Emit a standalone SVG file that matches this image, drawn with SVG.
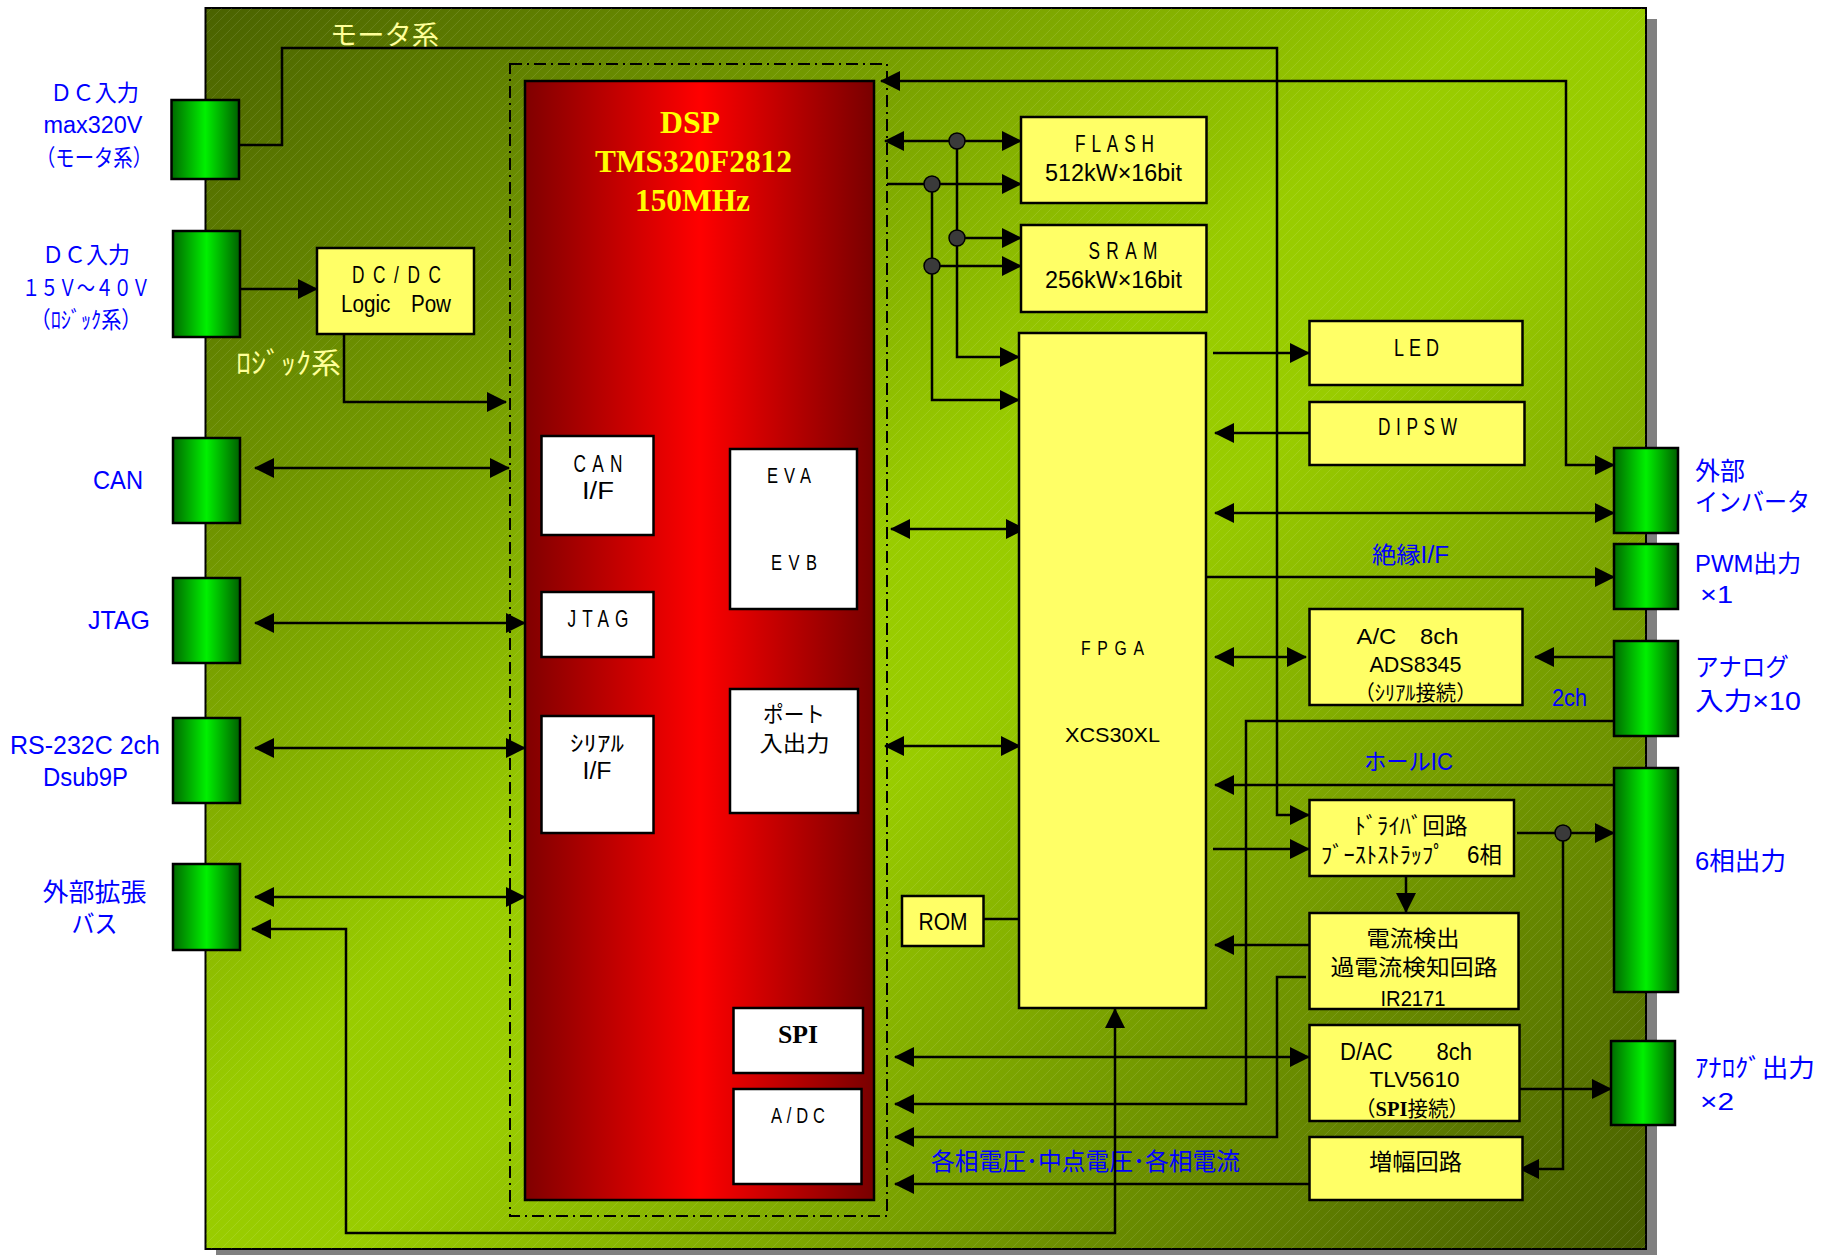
<svg xmlns="http://www.w3.org/2000/svg" width="1831" height="1255" viewBox="0 0 1831 1255">
<defs>
<linearGradient id="gBoard" x1="0" y1="0" x2="1" y2="1">
<stop offset="0" stop-color="#4a6200"/>
<stop offset="0.45" stop-color="#99cc00"/>
<stop offset="0.55" stop-color="#99cc00"/>
<stop offset="1" stop-color="#465c00"/>
</linearGradient>
<pattern id="hatch" patternUnits="userSpaceOnUse" width="10" height="10">
<path d="M-1,1 L1,-1 M0,10 L10,0 M9,11 L11,9" stroke="#ffffff" stroke-opacity="0.13" stroke-width="0.8"/>
</pattern>
<linearGradient id="gG" x1="0" y1="0" x2="1" y2="0">
<stop offset="0" stop-color="#006a00"/>
<stop offset="0.5" stop-color="#00f000"/>
<stop offset="1" stop-color="#006000"/>
</linearGradient>
<linearGradient id="gR" x1="0" y1="0" x2="1" y2="0">
<stop offset="0" stop-color="#800000"/>
<stop offset="0.5" stop-color="#ff0000"/>
<stop offset="1" stop-color="#780000"/>
</linearGradient>
<marker id="ah" viewBox="0 0 20 20" refX="19" refY="10" markerWidth="20" markerHeight="20" markerUnits="userSpaceOnUse" orient="auto-start-reverse">
<path d="M0,0 L20,10 L0,20 z" fill="#000"/>
</marker>
<style>
.b{fill:#ffff66;stroke:#000;stroke-width:2.5}
.w{fill:#ffffff;stroke:#000;stroke-width:2.5}
.cn{fill:url(#gG);stroke:#000;stroke-width:2.5}
.ln{fill:none;stroke:#000;stroke-width:2.5}
.e{marker-end:url(#ah)}
.s{marker-start:url(#ah)}
.dot{fill:#3a3a3a;stroke:#000;stroke-width:1.5}
text{font-family:"Liberation Sans","Noto Sans CJK JP",sans-serif;text-anchor:middle;fill:#000}
.bl{fill:#0000ff}
.yl{fill:#ffff99}
.yt{fill:#ffff00}
.st{text-anchor:start}
.sf{font-family:"Liberation Serif","Noto Sans CJK JP",serif;font-weight:bold}
</style>
</defs>

<g id="board">
<rect x="216" y="19" width="1441" height="1236" fill="#808080"/>
<rect x="205.5" y="8" width="1440.5" height="1241" fill="url(#gBoard)" stroke="#000" stroke-width="2"/>
<rect x="205.5" y="8" width="1440.5" height="1241" fill="url(#hatch)"/>
<text class="yl" x="384.5" y="45" font-size="27" textLength="109" lengthAdjust="spacingAndGlyphs">モータ系</text>
<text class="yl" x="288.5" y="374" font-size="29" textLength="105" lengthAdjust="spacingAndGlyphs">ﾛｼﾞｯｸ系</text>
<text class="bl" x="1410.5" y="563" font-size="23" textLength="77" lengthAdjust="spacingAndGlyphs">絶縁I/F</text>
<text class="bl" x="1408.5" y="770" font-size="23" textLength="89" lengthAdjust="spacingAndGlyphs">ホールIC</text>
<text class="bl" x="1085.5" y="1170" font-size="24" textLength="309" lengthAdjust="spacingAndGlyphs">各相電圧･中点電圧･各相電流</text>
<text class="bl" x="1569.5" y="706" font-size="23" textLength="35" lengthAdjust="spacingAndGlyphs">2ch</text>
</g>

<g id="dsp">
<rect x="510" y="64" width="377" height="1152" fill="none" stroke="#000" stroke-width="2" stroke-dasharray="12 5 2 5"/>
<rect x="525" y="81" width="349" height="1119" fill="url(#gR)" stroke="#000" stroke-width="2.5"/>
<text class="sf yt" x="690" y="133" font-size="31" textLength="60" lengthAdjust="spacingAndGlyphs">DSP</text>
<text class="sf yt" x="693.5" y="172" font-size="31" textLength="197" lengthAdjust="spacingAndGlyphs">TMS320F2812</text>
<text class="sf yt" x="692.5" y="210.5" font-size="31" textLength="115" lengthAdjust="spacingAndGlyphs">150MHz</text>
</g>

<g id="dsp-can">
<rect class="w" x="541.5" y="436" width="112" height="99"/>
<text transform="translate(598,472) scale(0.75,1)" x="4.2" y="0" font-size="23" letter-spacing="8.4">CAN</text>
<text x="598" y="499" font-size="23" textLength="32" lengthAdjust="spacingAndGlyphs">I/F</text>
</g>
<g id="dsp-ev">
<rect class="w" x="730" y="449" width="127" height="160"/>
<text transform="translate(789,483) scale(0.75,1)" x="4" y="0" font-size="22" letter-spacing="8">EVA</text>
<text transform="translate(794,570) scale(0.75,1)" x="4.3" y="0" font-size="22" letter-spacing="8.7">EVB</text>
</g>
<g id="dsp-jtag">
<rect class="w" x="541.5" y="592" width="112" height="65"/>
<text transform="translate(598,627) scale(0.75,1)" x="4" y="0" font-size="23" letter-spacing="8">JTAG</text>
</g>
<g id="dsp-serial">
<rect class="w" x="541.5" y="716" width="112" height="117"/>
<text x="597" y="751" font-size="22" textLength="54" lengthAdjust="spacingAndGlyphs">ｼﾘｱﾙ</text>
<text x="597" y="779" font-size="23" textLength="29" lengthAdjust="spacingAndGlyphs">I/F</text>
</g>
<g id="dsp-port">
<rect class="w" x="730" y="689" width="128" height="124"/>
<text x="794" y="722" font-size="22" textLength="62" lengthAdjust="spacingAndGlyphs">ポート</text>
<text x="794.5" y="751" font-size="22" textLength="70" lengthAdjust="spacingAndGlyphs">入出力</text>
</g>
<g id="dsp-spi">
<rect class="w" x="733.5" y="1008" width="129.5" height="65"/>
<text class="sf" x="798" y="1043" font-size="25" textLength="40" lengthAdjust="spacingAndGlyphs">SPI</text>
</g>
<g id="dsp-adc">
<rect class="w" x="733.5" y="1089" width="128" height="95"/>
<text transform="translate(798,1123) scale(0.75,1)" x="3.2" y="0" font-size="22" letter-spacing="6.5">A/DC</text>
</g>

<g id="connectors">
<path class="ln e" d="M239,145 H282 V48 H1277 V815 H1309"/>
<path class="ln s e" d="M881,81 H1566 V465 H1614"/>
<path class="ln s e" d="M885,141 H1021"/>
<path class="ln e" d="M887,184 H1021"/>
<path class="ln e" d="M957,141 V357 H1019"/>
<path class="ln e" d="M957,238 H1021"/>
<path class="ln e" d="M932,184 V400 H1019"/>
<path class="ln e" d="M932,266 H1021"/>
<path class="ln e" d="M234,289 H317"/>
<path class="ln e" d="M344,334 V402 H506"/>
<path class="ln s e" d="M255,468 H509"/>
<path class="ln s e" d="M255,623 H525"/>
<path class="ln s e" d="M255,748 H525"/>
<path class="ln s e" d="M255,897 H525"/>
<path class="ln s e" d="M1115,1009 V1233 H346 V929 H252"/>
<path class="ln s e" d="M891,529 H1025"/>
<path class="ln s e" d="M885,746 H1020"/>
<path class="ln e" d="M1213,353 H1309"/>
<path class="ln e" d="M1309,433 H1215"/>
<path class="ln s e" d="M1215,513 H1614"/>
<path class="ln e" d="M1206,577 H1614"/>
<path class="ln s e" d="M1215,657 H1306"/>
<path class="ln e" d="M1614,657 H1535"/>
<path class="ln e" d="M1614,721 H1246 V1104 H895"/>
<path class="ln e" d="M1614,785 H1215"/>
<path class="ln e" d="M1213,849 H1309"/>
<path class="ln e" d="M1517,833 H1614"/>
<path class="ln e" d="M1563,833 V1169 H1520"/>
<path class="ln e" d="M1406,876 V912"/>
<path class="ln e" d="M1309,945 H1215"/>
<path class="ln e" d="M1306,977 H1277 V1137 H895"/>
<path class="ln s e" d="M895,1057 H1309"/>
<path class="ln e" d="M1520,1089 H1611"/>
<path class="ln e" d="M1309,1184 H895"/>
<path class="ln" d="M983,919 H1019"/>
<ellipse class="dot" cx="957" cy="141" rx="8" ry="8"/>
<ellipse class="dot" cx="932" cy="184" rx="8" ry="8"/>
<ellipse class="dot" cx="957" cy="238" rx="8" ry="8"/>
<ellipse class="dot" cx="932" cy="266" rx="8" ry="8"/>
<ellipse class="dot" cx="1563" cy="833" rx="8" ry="8"/>
</g>

<g id="conn-dc-motor">
<rect class="cn" x="171.5" y="100" width="67.5" height="79"/>
<text class="bl" x="94.5" y="101" font-size="23" textLength="89" lengthAdjust="spacingAndGlyphs">ＤＣ入力</text>
<text class="bl" x="93" y="133" font-size="23.5" textLength="99" lengthAdjust="spacingAndGlyphs">max320V</text>
<text class="bl" x="94" y="166" font-size="23" textLength="116" lengthAdjust="spacingAndGlyphs">（モータ系）</text>
</g>
<g id="conn-dc-logic">
<rect class="cn" x="173" y="231" width="67" height="106"/>
<text class="bl" x="86" y="263" font-size="23" textLength="88" lengthAdjust="spacingAndGlyphs">ＤＣ入力</text>
<text class="bl" x="86" y="296" font-size="23" textLength="128" lengthAdjust="spacingAndGlyphs">１５Ｖ～４０Ｖ</text>
<text class="bl" x="86" y="328" font-size="23" textLength="111" lengthAdjust="spacingAndGlyphs">（ﾛｼﾞｯｸ系）</text>
</g>
<g id="conn-can">
<rect class="cn" x="173" y="438" width="67" height="85"/>
<text class="bl" x="118" y="489" font-size="26" textLength="50" lengthAdjust="spacingAndGlyphs">CAN</text>
</g>
<g id="conn-jtag">
<rect class="cn" x="173" y="578" width="67" height="85"/>
<text class="bl" x="119" y="629" font-size="26" textLength="62" lengthAdjust="spacingAndGlyphs">JTAG</text>
</g>
<g id="conn-rs232c">
<rect class="cn" x="173" y="718" width="67" height="85"/>
<text class="bl" x="85" y="754" font-size="25" textLength="150" lengthAdjust="spacingAndGlyphs">RS-232C 2ch</text>
<text class="bl" x="85.5" y="786" font-size="25" textLength="85" lengthAdjust="spacingAndGlyphs">Dsub9P</text>
</g>
<g id="conn-extbus">
<rect class="cn" x="173" y="864" width="67" height="86"/>
<text class="bl" x="94.5" y="901" font-size="25" textLength="104" lengthAdjust="spacingAndGlyphs">外部拡張</text>
<text class="bl" x="94.5" y="933" font-size="25" textLength="46" lengthAdjust="spacingAndGlyphs">バス</text>
</g>

<g id="conn-inverter">
<rect class="cn" x="1614" y="448" width="64" height="85"/>
<text class="bl st" x="1695" y="480" font-size="25" textLength="50" lengthAdjust="spacingAndGlyphs">外部</text>
<text class="bl st" x="1695" y="511" font-size="25" textLength="115" lengthAdjust="spacingAndGlyphs">インバータ</text>
</g>
<g id="conn-pwm">
<rect class="cn" x="1614" y="544" width="64" height="65"/>
<text class="bl st" x="1695" y="572" font-size="24" textLength="106" lengthAdjust="spacingAndGlyphs">PWM出力</text>
<text class="bl st" x="1700" y="603" font-size="24" textLength="33" lengthAdjust="spacingAndGlyphs">×1</text>
</g>
<g id="conn-analog-in">
<rect class="cn" x="1614" y="641" width="64" height="95"/>
<text class="bl st" x="1695" y="676" font-size="25" textLength="94" lengthAdjust="spacingAndGlyphs">アナログ</text>
<text class="bl st" x="1695" y="710" font-size="25" textLength="106" lengthAdjust="spacingAndGlyphs">入力×10</text>
</g>
<g id="conn-6phase">
<rect class="cn" x="1614" y="768" width="64" height="224"/>
<text class="bl st" x="1695" y="870" font-size="25" textLength="91" lengthAdjust="spacingAndGlyphs">6相出力</text>
</g>
<g id="conn-analog-out">
<rect class="cn" x="1611" y="1041" width="64" height="84"/>
<text class="bl st" x="1695" y="1077" font-size="25" textLength="120" lengthAdjust="spacingAndGlyphs">ｱﾅﾛｸﾞ出力</text>
<text class="bl st" x="1700" y="1110" font-size="24" textLength="34" lengthAdjust="spacingAndGlyphs">×2</text>
</g>

<g id="dcdc">
<rect class="b" x="317" y="248" width="157" height="86"/>
<text transform="translate(396.5,283) scale(0.75,1)" x="5.7" y="0" font-size="23" letter-spacing="11.5">DC/DC</text>
<text x="396" y="312" font-size="23" textLength="110" lengthAdjust="spacingAndGlyphs">Logic　Pow</text>
</g>
<g id="flash">
<rect class="b" x="1021" y="117" width="185.5" height="86"/>
<text transform="translate(1114.5,152) scale(0.75,1)" x="3.9" y="0" font-size="23" letter-spacing="7.8">FLASH</text>
<text x="1113.5" y="181" font-size="23" textLength="137" lengthAdjust="spacingAndGlyphs">512kW×16bit</text>
</g>
<g id="sram">
<rect class="b" x="1021" y="225" width="185.5" height="87"/>
<text transform="translate(1123,259) scale(0.75,1)" x="4.2" y="0" font-size="23" letter-spacing="8.5">SRAM</text>
<text x="1113.5" y="288" font-size="23" textLength="137" lengthAdjust="spacingAndGlyphs">256kW×16bit</text>
</g>
<g id="fpga">
<rect class="b" x="1019" y="333" width="187" height="675"/>
<text transform="translate(1112.5,655) scale(0.75,1)" x="4.4" y="0" font-size="21" letter-spacing="8.9">FPGA</text>
<text x="1112.5" y="742" font-size="21" textLength="95" lengthAdjust="spacingAndGlyphs">XCS30XL</text>
</g>
<g id="rom">
<rect class="b" x="902" y="896" width="81.5" height="50"/>
<text x="943" y="930" font-size="24" textLength="49" lengthAdjust="spacingAndGlyphs">ROM</text>
</g>
<g id="led">
<rect class="b" x="1309.5" y="321" width="213" height="64"/>
<text transform="translate(1416.5,356) scale(0.75,1)" x="3.3" y="0" font-size="24" letter-spacing="6.6">LED</text>
</g>
<g id="dipsw">
<rect class="b" x="1309.5" y="402" width="215" height="63"/>
<text transform="translate(1417.5,435) scale(0.75,1)" x="3.7" y="0" font-size="23" letter-spacing="7.5">DIPSW</text>
</g>
<g id="adc">
<rect class="b" x="1309.5" y="609" width="213" height="96"/>
<text x="1407.5" y="644" font-size="22" textLength="102" lengthAdjust="spacingAndGlyphs">A/C　8ch</text>
<text x="1415.5" y="672" font-size="22" textLength="92" lengthAdjust="spacingAndGlyphs">ADS8345</text>
<text x="1415.5" y="700" font-size="21" textLength="122" lengthAdjust="spacingAndGlyphs">（ｼﾘｱﾙ接続）</text>
</g>
<g id="driver">
<rect class="b" x="1309.5" y="800" width="204.5" height="76"/>
<text x="1411" y="834" font-size="23" textLength="113" lengthAdjust="spacingAndGlyphs">ﾄﾞﾗｲﾊﾞ回路</text>
<text x="1411.5" y="863" font-size="23" textLength="181" lengthAdjust="spacingAndGlyphs">ﾌﾞｰｽﾄｽﾄﾗｯﾌﾟ　6相</text>
</g>
<g id="current">
<rect class="b" x="1309.5" y="913" width="209" height="96"/>
<text x="1413" y="946" font-size="22" textLength="93" lengthAdjust="spacingAndGlyphs">電流検出</text>
<text x="1414" y="975" font-size="22" textLength="167" lengthAdjust="spacingAndGlyphs">過電流検知回路</text>
<text x="1413" y="1006" font-size="22" textLength="65" lengthAdjust="spacingAndGlyphs">IR2171</text>
</g>
<g id="dac">
<rect class="b" x="1309.5" y="1025" width="210" height="96"/>
<text x="1406" y="1060" font-size="23" textLength="132" lengthAdjust="spacingAndGlyphs">D/AC　　8ch</text>
<text x="1414.5" y="1087" font-size="22" textLength="90" lengthAdjust="spacingAndGlyphs">TLV5610</text>
<text x="1412" y="1116" font-size="21" textLength="114" lengthAdjust="spacingAndGlyphs">（<tspan class="sf">SPI</tspan>接続）</text>
</g>
<g id="amp">
<rect class="b" x="1309.5" y="1137" width="213" height="63"/>
<text x="1415.5" y="1170" font-size="23" textLength="93" lengthAdjust="spacingAndGlyphs">増幅回路</text>
</g>
</svg>
